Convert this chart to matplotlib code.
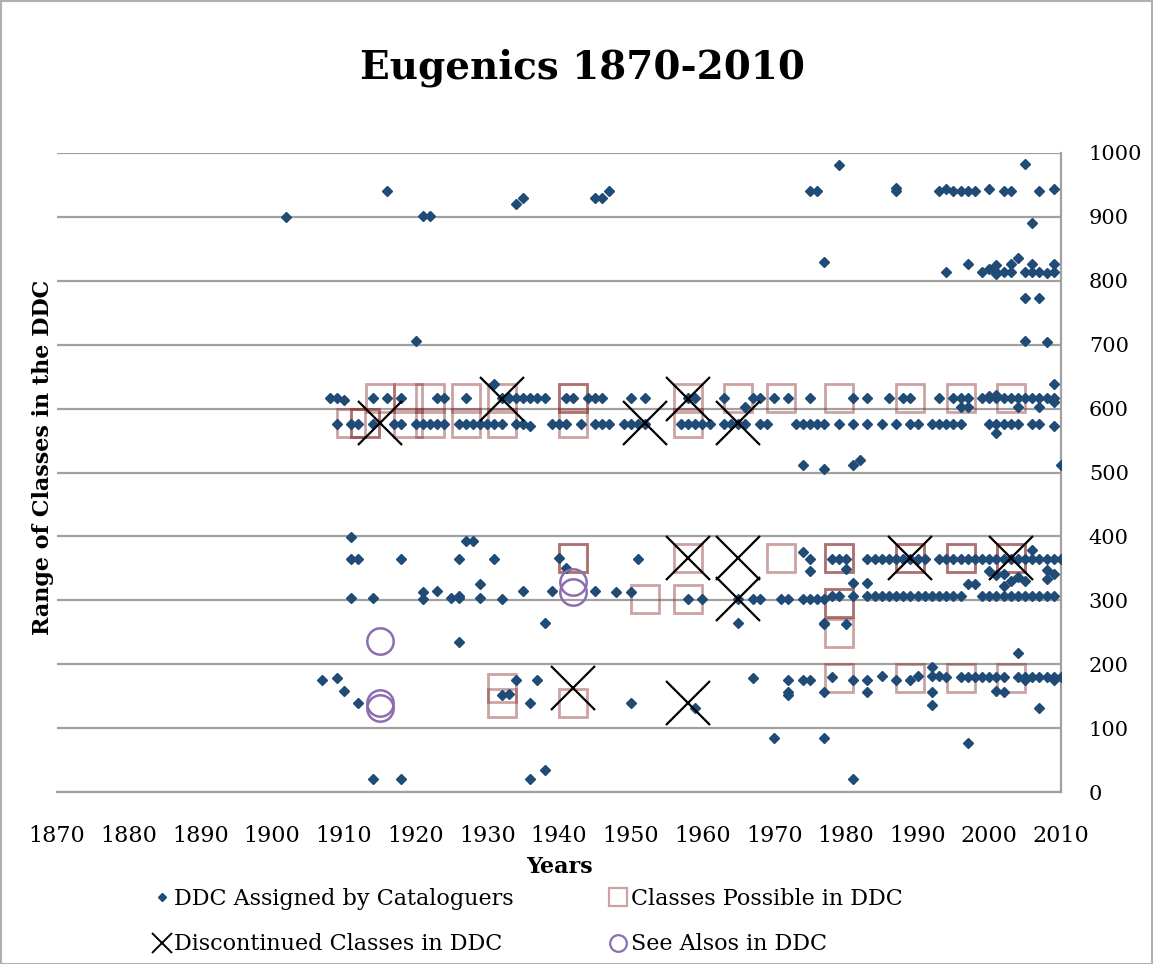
import matplotlib
matplotlib.use("Agg")
import matplotlib.pyplot as plt
from matplotlib.lines import Line2D
from matplotlib.patches import Rectangle

plt.rcParams['font.family'] = ['DejaVu Serif']

# DDC numbers assigned by cataloguers (year, class)
ddc_years = [
    # 900s / 800s / 700s
    1902, 1916, 1921, 1922, 1934, 1935, 1945, 1946, 1947,
    1975, 1976, 1979, 1987, 1987, 1993, 1994, 1995, 1996, 1997, 1998,
    2000, 2002, 2003, 2005, 2007, 2009, 2006,
    1977, 1994, 1997, 1999, 2000, 2001, 2001, 2001, 2002, 2003, 2003, 2004,
    2005, 2006, 2006, 2007, 2008, 2009, 2009,
    1920, 2005, 2007, 2005, 2008,
    # 600s / 500s
    2009, 2010, 1974, 1977, 1981, 1982,
    1908, 1909, 1910, 1914, 1916, 1918, 1923, 1924, 1927, 1931,
    1932, 1933, 1934, 1935, 1936, 1937, 1938, 1941, 1942, 1944, 1945, 1946,
    1950, 1952, 1958, 1959, 1963, 1966, 1967, 1968, 1970, 1972, 1975,
    1981, 1983, 1986, 1988, 1989, 1993, 1995, 1996, 1997,
    1999, 2000, 2001, 2002, 2003, 2004, 2005, 2006, 2007, 2008, 2009,
    1996, 1997, 2004, 2007, 2009, 2000, 2001,
    1909, 1911, 1912, 1914, 1917, 1918, 1920, 1921, 1922, 1923, 1924,
    1926, 1927, 1928, 1929, 1930, 1931, 1932, 1934, 1935, 1936,
    1939, 1940, 1941, 1943, 1945, 1946, 1947, 1949, 1950, 1951, 1952,
    1957, 1958, 1959, 1960, 1961, 1963, 1964, 1965, 1966, 1968, 1969,
    1973, 1974, 1975, 1976, 1977, 1979, 1981, 1983, 1985, 1987, 1989, 1990,
    1992, 1993, 1994, 1995, 1996, 2000, 2001, 2002, 2003, 2004, 2006, 2007,
    2009, 2001,
    # 300s
    1911, 1911, 1912, 1918, 1926, 1927, 1928, 1931, 1940, 1941, 1951,
    1911, 1914, 1921, 1921, 1923, 1925, 1926, 1926, 1929, 1929, 1932,
    1935, 1939, 1945, 1948, 1950, 1938, 1926,
    1958, 1960, 1965, 1967, 1968, 1971, 1972, 1974, 1975, 1976, 1977,
    1965, 1974, 1975, 1975, 1977,
    1978, 1979, 1980, 1983, 1984, 1985, 1986, 1987, 1988, 1989, 1990, 1991,
    1993, 1994, 1995, 1996, 1997, 1998, 1999, 2000, 2001, 2002, 2003, 2004,
    2005, 2006, 2007, 2008, 2009, 2010,
    1980, 1981, 1983, 2000, 2002, 1997, 1998, 2004, 2005, 2006, 2008, 2009,
    2008, 2003, 2002, 2001,
    1978, 1979, 1981, 1983, 1984, 1985, 1986, 1987, 1988, 1989, 1990, 1991,
    1992, 1993, 1994, 1995, 1996, 1999, 2000, 2001, 2002, 2003, 2004, 2005,
    2006, 2007, 2008, 2009, 1977, 1980,
    # 100s / 000s
    1907, 1909, 1910, 1912, 1932, 1933, 1934, 1937, 1936, 1950, 1959,
    1914, 1918, 1936, 1938,
    1967, 1972, 1972, 1972, 1974, 1975, 1977, 1978, 1981, 1983, 1983,
    1985, 1987, 1989, 1990, 1992, 1992, 1992, 1992, 1993, 1994,
    1996, 1997, 1998, 1999, 2000, 2001, 2002, 2002, 2004, 2004,
    2005, 2006, 2007, 2008, 2009, 2010, 2005, 2007, 2009, 2001,
    1970, 1977, 1997, 1981,
]
ddc_values = [
    900, 940, 902, 902, 920, 930, 930, 930, 941,
    941, 941, 981, 941, 945, 941, 944, 941, 941, 941, 941,
    944, 941, 941, 982, 941, 944, 891,
    830, 814, 826, 814, 818, 825, 814, 810, 814, 826, 814, 836,
    814, 826, 814, 814, 812, 826, 814,
    706, 773, 773, 706, 704,
    638, 512, 511, 505, 511, 520,
    616, 616, 614, 616, 616, 616, 616, 616, 616, 638,
    616, 616, 616, 616, 616, 616, 616, 616, 616, 616, 616, 616,
    616, 616, 616, 616, 616, 603, 616, 616, 616, 616, 616,
    616, 616, 616, 616, 616, 616, 616, 616, 616,
    616, 616, 616, 616, 616, 616, 616, 616, 616, 616, 616,
    603, 603, 603, 603, 611, 620, 621,
    576, 576, 576, 576, 576, 576, 576, 576, 576, 576, 576,
    576, 576, 576, 576, 576, 576, 576, 576, 576, 572,
    576, 576, 576, 576, 576, 576, 576, 576, 576, 576, 576,
    576, 576, 576, 576, 576, 576, 576, 576, 576, 576, 576,
    576, 576, 576, 576, 576, 576, 576, 576, 576, 576, 576, 576,
    576, 576, 576, 576, 576, 576, 576, 576, 576, 576, 576, 576,
    572, 562,
    399, 364, 364, 364, 364, 393, 393, 364, 366, 351, 364,
    303, 303, 313, 302, 315, 303, 303, 306, 325, 303, 302,
    314, 314, 314, 313, 313, 264, 235,
    302, 302, 302, 302, 302, 302, 302, 302, 302, 302, 302,
    264, 375, 364, 346, 264,
    364, 364, 364, 364, 364, 364, 364, 364, 364, 364, 364, 364,
    364, 364, 364, 364, 364, 364, 364, 364, 364, 364, 364, 364,
    364, 364, 364, 364, 364, 364,
    349, 327, 327, 346, 341, 325, 325, 337, 331, 379, 347, 341,
    333, 331, 323, 340,
    306, 306, 306, 306, 306, 306, 306, 306, 306, 306, 306, 306,
    306, 306, 306, 306, 306, 306, 306, 306, 306, 306, 306, 306,
    306, 306, 306, 306, 263, 263,
    176, 179, 158, 139, 152, 154, 176, 176, 139, 139, 131,
    20, 20, 20, 34,
    179, 176, 157, 152, 176, 176, 157, 180, 176, 176, 157,
    182, 176, 176, 182, 196, 182, 157, 136, 182, 180,
    180, 180, 180, 180, 180, 180, 180, 157, 218, 180,
    180, 180, 180, 180, 180, 180, 176, 131, 176, 158,
    85, 85, 76, 21,
]

# classes possible in the DDC
possible_years = [1915, 1919, 1922, 1927, 1932, 1942, 1942, 1958, 1965, 1971,
                  1979, 1989, 1996, 2003,
                  1911, 1913, 1913, 1919, 1922, 1927, 1932, 1942, 1958,
                  1942, 1942, 1958, 1971, 1979, 1979, 1989, 1989, 1996, 1996,
                  2003, 2003,
                  1952, 1958, 1979, 1979, 1979,
                  1932, 1932, 1942, 1979, 1989, 1996, 2003]
possible_values = [616, 616, 616, 616, 616, 616, 616, 616, 616, 616,
                   616, 616, 616, 616,
                   577, 577, 577, 577, 577, 577, 577, 577, 577,
                   366, 366, 366, 366, 366, 366, 366, 366, 366, 366,
                   366, 366,
                   302, 302, 296, 296, 249,
                   162, 139, 139, 178, 178, 178, 178]

# discontinued classes
discont_years = [1915, 1932, 1952, 1958, 1965, 1958, 1965, 1965, 1989, 2003, 1942, 1958]
discont_values = [577, 615, 577, 615, 577, 366, 366, 302, 366, 366, 162, 139]

# see alsos
seealso_years = [1915, 1915, 1915, 1942, 1942]
seealso_values = [236, 139, 131, 329, 313]

blue = '#1f4b76'
rose = (0.55, 0.2, 0.2, 0.45)
purple = '#8c6db0'
grey = '#a0a0a0'

fig = plt.figure(figsize=(11.54, 9.64), dpi=100)
ax = fig.add_axes([0.0494, 0.1784, 0.87, 0.6629])

ax.plot(possible_years, possible_values, 's', ms=20, mfc='none', mec=rose, mew=2, zorder=2)
ax.plot(ddc_years, ddc_values, 'D', ms=4.8, color=blue, mec=blue, zorder=3)
ax.plot(discont_years, discont_values, 'x', ms=32, color='black', mew=1.6, zorder=4)
ax.plot(seealso_years, seealso_values, 'o', ms=19, mfc='none', mec=purple, mew=1.8, zorder=5)

ax.set_xlim(1870, 2010)
ax.set_ylim(0, 1000)
ax.set_xticks(range(1870, 2011, 10))
ax.set_yticks(range(0, 1001, 100))
ax.yaxis.tick_right()
ax.tick_params(axis='both', length=0)
ax.tick_params(axis='x', pad=24, labelsize=16)
ax.tick_params(axis='y', pad=20, labelsize=15)
ax.grid(axis='y', color=grey, linewidth=1.6)
ax.set_axisbelow(True)
for s in ['left', 'top']:
    ax.spines[s].set_visible(False)
for s in ['right', 'bottom']:
    ax.spines[s].set_color(grey)
    ax.spines[s].set_linewidth(1.6)

fig.suptitle('Eugenics 1870-2010', x=0.505, y=0.93, fontsize=28, fontweight='bold',
             va='center')
ax.set_xlabel('Years', fontsize=16, fontweight='bold', labelpad=6)
fig.text(0.037, 0.526, 'Range of Classes in the DDC', rotation=90, fontsize=16,
         fontweight='bold', ha='center', va='center')

handles = [
    Line2D([], [], ls='none', marker='D', ms=4.5, color=blue),
    Line2D([], [], ls='none', marker='x', ms=14, color='black', mew=1.4),
    Line2D([], [], ls='none', marker='s', ms=13, mfc='none', mec=rose, mew=1.6),
    Line2D([], [], ls='none', marker='o', ms=12, mfc='none', mec=purple, mew=1.6),
]
labels = ['DDC Assigned by Cataloguers', 'Discontinued Classes in DDC',
          'Classes Possible in DDC', 'See Alsos in DDC']
fig.legend(handles, labels, ncol=2, loc='upper left', bbox_to_anchor=(0.125, 0.088),
           frameon=False, fontsize=16, handlelength=0.8, handletextpad=0.15,
           columnspacing=4.3, labelspacing=1.05, borderaxespad=0)

fig.patches.append(Rectangle((0.001, 0.0), 0.997, 0.999, transform=fig.transFigure,
                             fill=False, edgecolor='#b0b0b0', linewidth=1.5))

fig.savefig('out.png', dpi=100)
